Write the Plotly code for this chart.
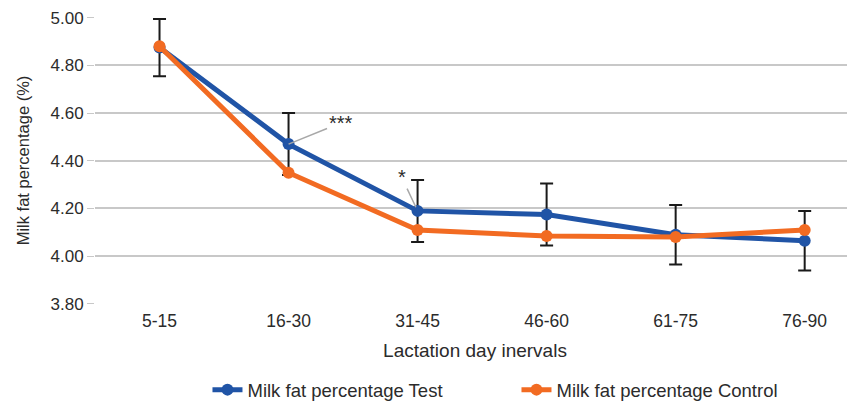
import plotly.graph_objects as go

categories = ["5-15", "16-30", "31-45", "46-60", "61-75", "76-90"]
test_values = [4.875, 4.47, 4.19, 4.175, 4.09, 4.065]
control_values = [4.88, 4.35, 4.11, 4.085, 4.08, 4.11]
test_error = [0.12, 0.13, 0.13, 0.13, 0.125, 0.125]
y_ticks = [3.80, 4.00, 4.20, 4.40, 4.60, 4.80, 5.00]

BLUE = "#2054a6"
ORANGE = "#f26b22"
FONT = "Liberation Sans, Arial, sans-serif"
TXT = "#2b2b2b"

fig = go.Figure()
fig.add_trace(go.Scatter(
    x=categories, y=test_values, mode="lines+markers",
    name="Milk fat percentage Test",
    line=dict(color=BLUE, width=5),
    marker=dict(color=BLUE, size=12),
    error_y=dict(type="data", array=test_error, color="#1a1a1a", thickness=2, width=6.5),
))
fig.add_trace(go.Scatter(
    x=categories, y=control_values, mode="lines+markers",
    name="Milk fat percentage Control",
    line=dict(color=ORANGE, width=5),
    marker=dict(color=ORANGE, size=12),
))

fig.add_annotation(x=categories[1], y=test_values[1], text="***", showarrow=True,
                   arrowhead=0, arrowcolor="#a8a8a8", arrowwidth=1.5, ax=52, ay=-21,
                   font=dict(size=20, color=TXT, family=FONT))
fig.add_annotation(x=categories[2], y=test_values[2], text="*", showarrow=True,
                   arrowhead=0, arrowcolor="#a8a8a8", arrowwidth=1.5, ax=-16, ay=-34,
                   standoff=4, font=dict(size=20, color=TXT, family=FONT))

# The page body has an 8px default margin, so the figure is sized to fill
# the remaining window area.
fig.update_layout(
    width=847, height=399,
    margin=dict(l=87, r=0, t=9, b=103, autoexpand=False),
    plot_bgcolor="white", paper_bgcolor="white",
    font=dict(family=FONT, size=17, color=TXT),
    showlegend=True,
    legend=dict(orientation="h", x=0.148, xanchor="left", xref="paper",
                y=-0.30, yanchor="middle", font=dict(size=18.5, color=TXT),
                entrywidth=264, entrywidthmode="pixels", tracegroupgap=0),
    xaxis=dict(range=[-0.5, 5.39], showgrid=False, zeroline=False,
               showline=False, ticks="", automargin=False, ticklabelstandoff=4,
               title=dict(text="Lactation day inervals", font=dict(size=19, color=TXT), standoff=14),
               tickfont=dict(size=17.5, color=TXT)),
    yaxis=dict(range=[3.7995, 5.003], tickvals=y_ticks, tickformat=".2f",
               showgrid=True, gridcolor="#c8c8c8", gridwidth=1.5, zeroline=False,
               ticks="outside", ticklen=7, tickcolor="#c8c8c8", automargin=False,
               ticklabeloverflow="allow",
               title=dict(text="Milk fat percentage (%)", font=dict(size=16.5, color=TXT), standoff=16),
               tickfont=dict(size=17, color=TXT)),
)

fig.write_html("out.html")
